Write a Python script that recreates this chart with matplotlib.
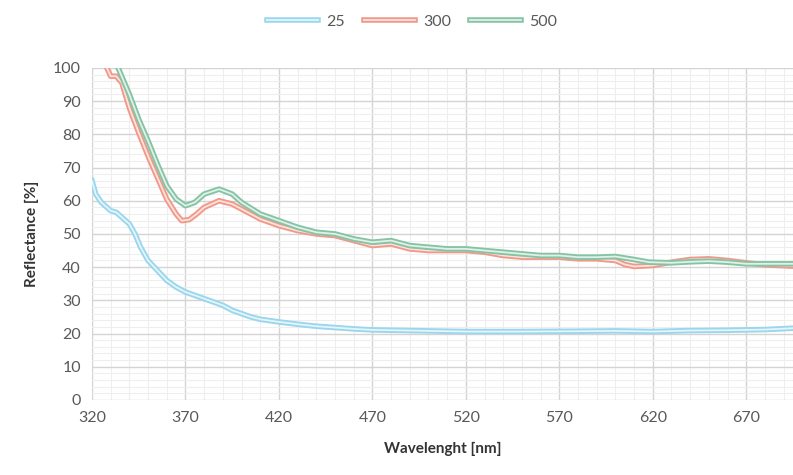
import numpy as np
import matplotlib
matplotlib.use("Agg")
import matplotlib.pyplot as plt
import matplotlib.patheffects as pe

# wavelength [nm] and reflectance [%]
wl_25 = [320, 322, 325, 328, 330, 333, 336, 340, 343, 346, 350, 355, 360, 365, 370,
         375, 380, 385, 390, 395, 400, 405, 410, 420, 430, 440, 450, 460, 470, 480,
         500, 520, 550, 580, 600, 620, 640, 660, 680, 695]
r_25 = [66, 62, 59.5, 58, 57, 56.5, 55, 53, 50, 46, 42, 39, 36, 34, 32.5,
        31.5, 30.5, 29.5, 28.5, 27, 26, 25, 24.3, 23.5, 22.8, 22.2, 21.8, 21.4, 21.1, 21,
        20.8, 20.6, 20.6, 20.7, 20.8, 20.6, 20.9, 21, 21.2, 21.6]

wl_300 = [320, 325, 328, 330, 333, 336, 340, 345, 350, 355, 360, 365, 368, 372, 376,
          380, 388, 395, 400, 410, 420, 430, 440, 450, 460, 470, 480, 490, 500, 510,
          520, 530, 540, 550, 560, 570, 580, 590, 600, 605, 610, 620, 630, 640, 650,
          660, 670, 680, 695]
r_300 = [110, 103, 100, 97.5, 97.5, 95.5, 88, 80.5, 73.5, 67, 60.5, 56, 54, 54.3, 56,
         58, 60, 59, 57.5, 54.5, 52.5, 51, 50, 49.5, 48, 46.5, 47, 45.5, 45, 45,
         45, 44.5, 43.5, 43, 43, 43, 42.5, 42.5, 42, 40.8, 40.2, 40.5, 41.5, 42.3, 42.5,
         42, 41.3, 40.7, 40.3]

wl_500 = [320, 330, 334, 337, 340, 345, 350, 355, 360, 365, 370, 375, 380, 388, 395,
          400, 410, 420, 430, 440, 450, 460, 470, 480, 490, 500, 510, 520, 530, 540,
          550, 560, 570, 580, 590, 600, 610, 618, 630, 640, 650, 660, 670, 680, 695]
r_500 = [115, 104, 100, 96, 92, 84.5, 78, 71, 64.5, 60.5, 58.5, 59.5, 62, 63.5, 62,
         59.5, 56, 54, 52, 50.5, 50, 48.5, 47.5, 48, 46.5, 46, 45.5, 45.5, 45, 44.5,
         44, 43.5, 43.5, 43, 43, 43.2, 42.3, 41.5, 41.3, 41.6, 41.8, 41.5, 41, 41, 41]

x_ticks = [320, 370, 420, 470, 520, 570, 620, 670]

series = [
    ("25", wl_25, r_25, "#e4f5fb", "#9ad6ec"),
    ("300", wl_300, r_300, "#fde3dc", "#f0998a"),
    ("500", wl_500, r_500, "#dff1e8", "#86c3a4"),
]

plt.rcParams['font.family'] = ['Lato', 'DejaVu Sans']

fig = plt.figure(figsize=(7.93, 4.75), dpi=100)
ax = fig.add_axes([0.116, 0.158, 0.884, 0.699])

for name, x, y, inner, outer in series:
    ax.plot(x, y, color=inner, lw=1.3, label=name,
            path_effects=[pe.Stroke(linewidth=4.0, foreground=outer), pe.Normal()])

ax.set_xlim(320, 695)
ax.set_ylim(0, 100)
ax.set_xticks(x_ticks)
ax.set_xticks(np.arange(320, 700, 10), minor=True)
ax.set_yticks(np.arange(0, 101, 10))
ax.set_yticks(np.arange(0, 101, 2), minor=True)
ax.grid(True, which='major', color='#d4d4d4', lw=1.0)
ax.grid(True, which='minor', color='#eeeeee', lw=0.8)
ax.set_axisbelow(True)
for s in ax.spines.values():
    s.set_visible(False)
ax.tick_params(which='both', length=0, labelsize=11.5, colors='#595959', pad=8)

ax.set_xlabel('Wavelenght [nm]', fontsize=11, fontweight='bold', color='#333333', labelpad=12)
ax.set_ylabel('Reflectance [%]', fontsize=11, fontweight='bold', color='#333333', labelpad=10)

leg = fig.legend(loc='upper center', bbox_to_anchor=(0.52, 1.0), ncol=3, frameon=False,
                 fontsize=11.5, handlelength=3.2, columnspacing=1.2, handletextpad=0.5)
for t in leg.get_texts():
    t.set_color('#595959')

fig.savefig('out.png', dpi=100)
